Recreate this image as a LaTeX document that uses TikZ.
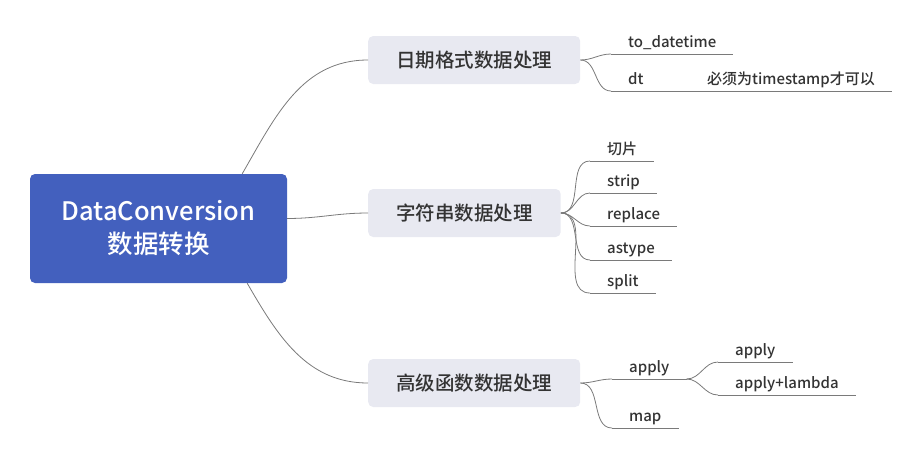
\documentclass[tikz,border=0pt]{standalone}
\usepackage{fontspec}
\setmainfont{Noto Sans CJK SC}[UprightFont={* Medium}]
\definecolor{rootblue}{HTML}{4360BE}
\definecolor{topicgray}{HTML}{E8E9F1}
\definecolor{linkgray}{HTML}{7A7A7A}
\definecolor{textdark}{HTML}{333333}
\begin{document}
\begin{tikzpicture}[x=1pt, y=-1pt,
    root/.style={fill=rootblue, rounded corners=5pt, minimum width=257pt, minimum height=109pt,
      text=white, align=center, font=\fontsize{25.5}{33}\selectfont},
    topic/.style={fill=topicgray, rounded corners=5pt, anchor=west, minimum height=48pt,
      inner xsep=28pt, text=textdark, font=\fontsize{19.5}{22}\selectfont},
    leaf/.style={anchor=south west, inner xsep=17pt, inner ysep=6.5pt, text depth=0pt,
      text=textdark, font=\fontsize{15}{17}\selectfont},
    link/.style={draw=linkgray, line width=0.8pt},
    uline/.style={draw=linkgray, line width=1pt}]
  \useasboundingbox (0,0) rectangle (923,456);

  \node[root] (dc) at (158.5,228.5) {DataConversion\\数据转换};

  \node[topic] (date) at (368,60) {日期格式数据处理};
  \node[topic] (str) at (368,213) {字符串数据处理};
  \node[topic] (func) at (368,383) {高级函数数据处理};

  \node[leaf] (todt) at (611,54) {to\_datetime};
  \node[leaf] (dt) at (611,91) {dt};
  \node[leaf] (dtnote) at (690,91) {必须为timestamp才可以};

  \node[leaf] (slice) at (590,161) {切片};
  \node[leaf] (strip) at (590,193) {strip};
  \node[leaf] (repl) at (590,226) {replace};
  \node[leaf] (astype) at (590,260) {astype};
  \node[leaf] (split) at (590,293) {split};

  \node[leaf] (apply) at (612,379) {apply};
  \node[leaf] (map) at (612,428) {map};
  \node[leaf] (applyfn) at (718,362) {apply};
  \node[leaf] (applylam) at (718,395) {apply+lambda};

  \draw[link] ([xshift=-45pt]dc.north east) to[out=60,in=180] (date.west);
  \draw[link] ([yshift=10pt]dc.east) to[out=0,in=180] (str.west);
  \draw[link] ([xshift=-40pt]dc.south east) to[out=-60,in=180] (func.west);

  \foreach \l in {todt,dt}
    \draw[link] (date.east) to[out=0,in=180] (\l.south west);
  \foreach \l in {slice,strip,repl,astype,split}
    \draw[link] (str.east) to[out=0,in=180] (\l.south west);
  \foreach \l in {apply,map}
    \draw[link] (func.east) to[out=0,in=180] (\l.south west);
  \foreach \l in {applyfn,applylam}
    \draw[link] (apply.south east) to[out=0,in=180] (\l.south west);
  \draw[link] (dt.south east) -- (dtnote.south west);

  \foreach \l in {todt,dt,dtnote,slice,strip,repl,astype,split,apply,map,applyfn,applylam}
    \draw[uline] (\l.south west) -- (\l.south east);
\end{tikzpicture}
\end{document}
